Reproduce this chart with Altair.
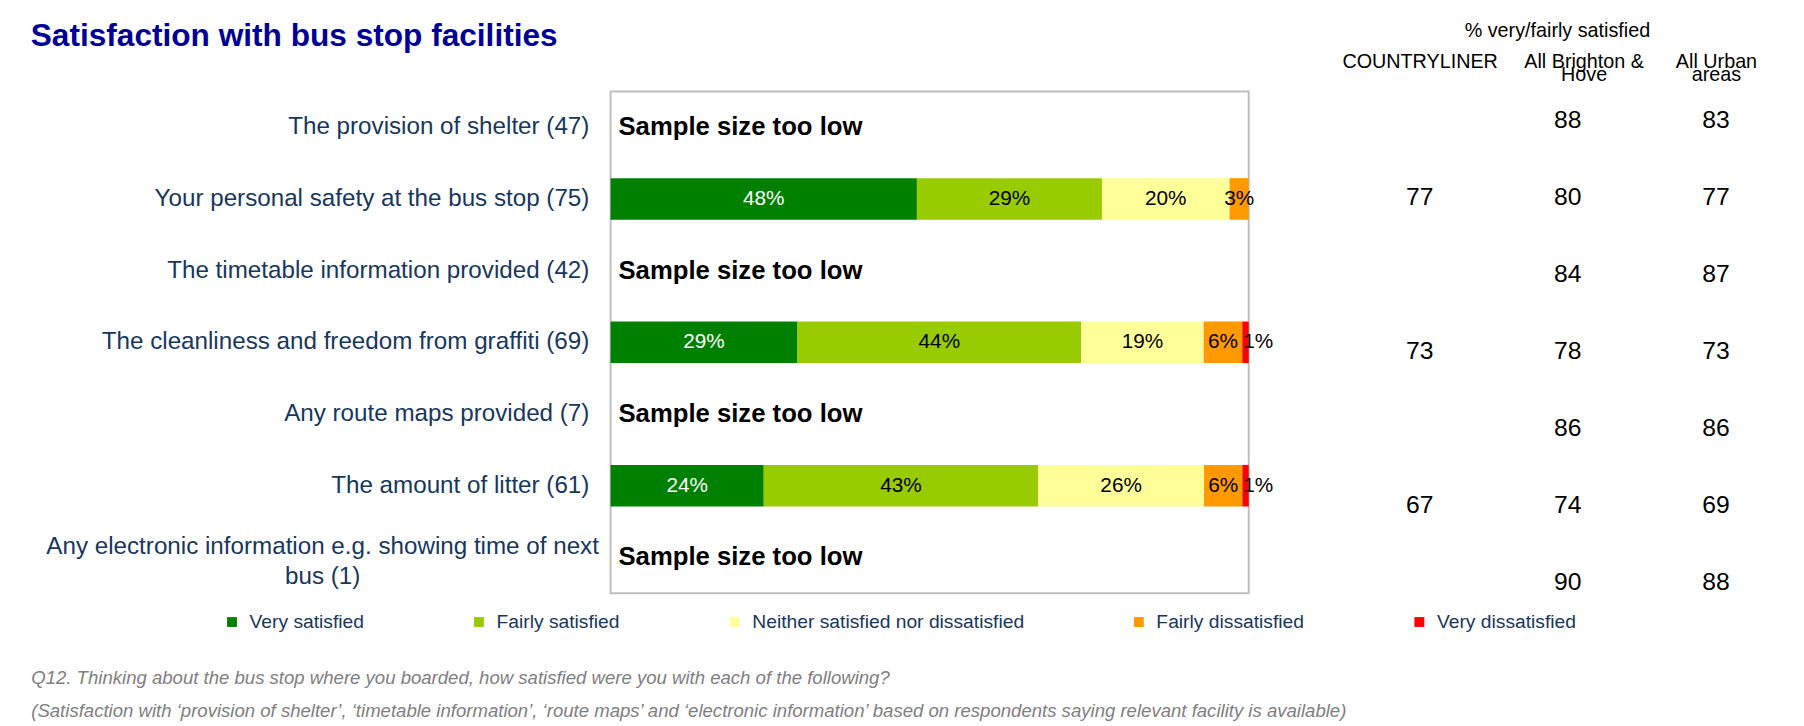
import altair as alt
import pandas as pd

FONT = "Liberation Sans"
NAVY = "#17375E"

categories = [
    "The provision of shelter (47)",
    "Your personal safety at the bus stop (75)",
    "The timetable information provided (42)",
    "The cleanliness and freedom from graffiti (69)",
    "Any route maps provided (7)",
    "The amount of litter (61)",
    "Any electronic information e.g. showing time of next\nbus (1)",
]
levels = [
    "Very satisfied",
    "Fairly satisfied",
    "Neither satisfied nor dissatisfied",
    "Fairly dissatisfied",
    "Very dissatisfied",
]
level_colors = ["#008000", "#99CC00", "#FFFF99", "#FF9900", "#FF0000"]

very_satisfied = [None, 48, None, 29, None, 24, None]
fairly_satisfied = [None, 29, None, 44, None, 43, None]
neither = [None, 20, None, 19, None, 26, None]
fairly_dissatisfied = [None, 3, None, 6, None, 6, None]
very_dissatisfied = [None, 0, None, 1, None, 1, None]

table_columns = ["COUNTRYLINER", "All Brighton &\nHove", "All Urban\nareas"]
countryliner = [None, 77, None, 73, None, 67, None]
all_brighton_hove = [88, 80, 84, 78, 86, 74, 90]
all_urban_areas = [83, 77, 87, 73, 86, 69, 88]

title_text = "Satisfaction with bus stop facilities"
table_title = "% very/fairly satisfied"
sample_note = "Sample size too low"
footnotes = [
    "Q12.  Thinking about the bus stop where you boarded, how satisfied were you with each of the following?",
    "(Satisfaction with \u2018provision of shelter\u2019, \u2018timetable information\u2019, \u2018route maps\u2019 and \u2018electronic information\u2019 based on respondents saying relevant facility is available)",
]

# ---- tables built from the arrays ----
series = [very_satisfied, fairly_satisfied, neither, fairly_dissatisfied, very_dissatisfied]
bar_rows = []
for i, cat in enumerate(categories):
    for j, lvl in enumerate(levels):
        v = series[j][i]
        if v is not None and v > 0:
            bar_rows.append({"row": cat, "level": lvl, "order": j, "value": v})
df_bars = pd.DataFrame(bar_rows)

df_low = pd.DataFrame(
    [{"row": cat, "zero": 0.0, "note": sample_note}
     for i, cat in enumerate(categories) if very_satisfied[i] is None]
)

table_rows = []
for col, vals in zip(table_columns, [countryliner, all_brighton_hove, all_urban_areas]):
    for i, cat in enumerate(categories):
        if vals[i] is not None:
            table_rows.append({"row": cat, "column": col, "value": vals[i]})
df_table = pd.DataFrame(table_rows)

# ---- scales / axes ----
xscale = alt.Scale(domain=[0, 1], nice=False, zero=True)
yscale = alt.Scale(type="band", domain=categories, paddingInner=0.42, paddingOuter=0.21)

is_elec = "indexof(datum.value, 'electronic') >= 0"
y_axis = alt.Axis(
    title=None, ticks=False, domain=False, grid=False,
    labelFont=FONT, labelFontSize=24.5, labelColor=NAVY, labelLimit=800,
    labelExpr="split(datum.label, '\\n')",
    labelLineHeight=30,
    labelAlign={"condition": {"test": is_elec, "value": "center"}, "value": "right"},
    labelPadding={"condition": {"test": is_elec, "value": 292}, "value": 22},
    labelOffset={"condition": {"test": is_elec, "value": -10}, "value": 0},
)
x_axis = alt.Axis(
    labels=False, ticks=False, domain=False, grid=False,
    title=footnotes, titleAnchor="start", titleAlign="left", titleBaseline="top",
    titleX=-587, titleY=76, titleFont=FONT, titleFontSize=18.8, titleFontStyle="italic",
    titleFontWeight="normal", titleColor="#808080", titleLineHeight=34,
)
legend = alt.Legend(
    title=None, orient="none", legendX=-393, legendY=527, direction="horizontal",
    columns=5, columnPadding=106, symbolType="square", symbolSize=100, symbolStrokeWidth=0,
    labelFont=FONT, labelFontSize=19.5, labelColor=NAVY, labelOffset=8, padding=0, labelLimit=400,
)

Y = alt.Y("row:N", scale=yscale, axis=y_axis)

base = alt.Chart(df_bars).transform_stack(
    stack="value", groupby=["row"], as_=["x0", "x1"], offset="normalize",
    sort=[alt.SortField("order", order="ascending")],
).transform_calculate(mid="(datum.x0 + datum.x1) / 2", label="datum.value + '%'")

bars = base.mark_bar().encode(
    x=alt.X("x0:Q", scale=xscale, axis=x_axis),
    x2="x1:Q",
    y=Y,
    color=alt.Color("level:N", scale=alt.Scale(domain=levels, range=level_colors), legend=legend),
)

text_color = alt.condition("datum.level == 'Very satisfied'", alt.value("white"), alt.value("black"))

labels_mid = base.transform_filter("datum.value >= 2").mark_text(
    font=FONT, fontSize=21
).encode(
    x=alt.X("mid:Q", scale=xscale, axis=x_axis), y=Y, text="label:N", color=text_color,
)
labels_small = base.transform_filter("datum.value < 2").mark_text(
    font=FONT, fontSize=21, align="left", dx=1
).encode(
    x=alt.X("x0:Q", scale=xscale, axis=x_axis), y=Y, text="label:N", color=text_color,
)
low = alt.Chart(df_low).mark_text(
    font=FONT, fontSize=26, fontWeight="bold", align="left", dx=8, color="black"
).encode(
    x=alt.X("zero:Q", scale=xscale, axis=x_axis), y=Y, text="note:N",
)

bar_panel = alt.layer(bars, labels_mid, labels_small, low).properties(
    width=646, height=508,
    title=alt.TitleParams(
        title_text, anchor="start", font=FONT, fontSize=32, fontWeight="bold",
        color="#000099", offset=39,
    ),
)

header_axis = alt.Axis(
    orient="top", title=table_title, labelAngle=0, ticks=False, domain=False, grid=False,
    labelBaseline="top", labelPadding=40, labelLineHeight=13, labelFont=FONT,
    labelFontSize=20, labelColor="black", labelLimit=400,
    labelExpr="split(datum.label, '\\n')",
    labelOffset={"condition": {"test": "indexof(datum.value, 'Brighton') >= 0", "value": 16}, "value": 0},
    titleFont=FONT, titleFontSize=20, titleFontWeight="normal", titleColor="black",
    titleX=214, titleY=-62, titleBaseline="middle", titleAlign="center",
)

table_panel = alt.Chart(df_table).mark_text(
    font=FONT, fontSize=25, dy=-10, color="black"
).encode(
    x=alt.X("column:N", scale=alt.Scale(type="point", domain=table_columns, padding=0.5), axis=header_axis),
    y=alt.Y("row:N", scale=alt.Scale(type="point", domain=categories, padding=0.5), axis=None),
    text="value:Q",
).properties(width=450, height=546, view=alt.ViewBackground(stroke="transparent"))

chart = alt.hconcat(bar_panel, table_panel, spacing=98, bounds="flush").properties(
    padding={"left": 22, "top": 7, "right": 5, "bottom": 5},
).configure(font=FONT).configure_view(stroke="#BFBFBF", strokeWidth=2)

chart.save("out.html", embed_options={"renderer": "svg", "actions": False})
